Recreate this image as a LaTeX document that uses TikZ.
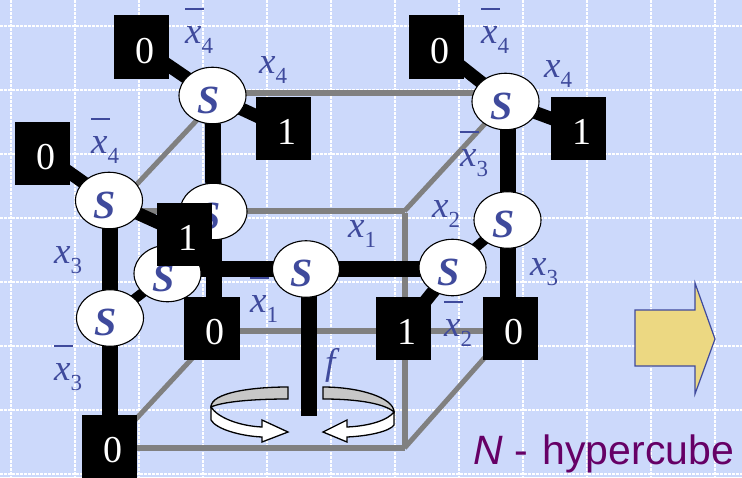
\documentclass[tikz,border=0pt]{standalone}
\usepackage{fontspec}
\setmainfont{Liberation Serif}
\newfontfamily\arialf{Liberation Sans}
\usetikzlibrary{shapes.geometric,backgrounds}
\definecolor{bgblue}{HTML}{CCD9FB}
\definecolor{inkblue}{HTML}{3F4A9C}
\definecolor{cubegray}{HTML}{808080}
\definecolor{arrowyellow}{HTML}{ECD882}
\definecolor{titlepurple}{HTML}{660066}
\newcommand{\xsub}[2]{{\fontsize{37}{37}\selectfont\itshape #1}\raisebox{-10.5pt}{\fontsize{23}{23}\selectfont #2}}
\newcommand{\xbar}[2]{\rlap{\raisebox{33.5pt}{\rule{19pt}{1.2pt}}}\xsub{#1}{#2}}
\tikzset{
  gridline/.style={white,line width=1.1pt,dash pattern=on 3pt off 1pt},
  bitbox/.style={rectangle,fill=black,text=white,minimum width=55.5pt,minimum height=63.5pt,inner sep=0pt,
    font=\fontsize{38}{38}\selectfont,text height=32pt,text depth=0pt,execute at begin node={\kern6pt}},
  switchnode/.style={ellipse,draw=black,line width=1.1pt,fill=white,text=inkblue,minimum width=67pt,minimum height=56.5pt,inner sep=0pt,
    font=\fontsize{40}{40}\selectfont\bfseries\itshape,text height=35pt,text depth=0pt,execute at end node={\kern8pt}},
  varlabel/.style={anchor=base west,inner sep=0pt,text=inkblue},
  cubeedge/.style={cubegray,line width=6pt},
  cubediag/.style={cubegray,line width=5pt},
  wirethick/.style={black,line width=16pt},
  wiremid/.style={black,line width=13pt},
  wirethin/.style={black,line width=10pt},
  turnband/.style={draw=black,line width=1.3pt,line join=miter},
}
\begin{document}
\begin{tikzpicture}[x=1pt,y=-1pt]
\useasboundingbox (0,0) rectangle (742,477);
% coordinates of the cube
\coordinate (cTL) at (212,93);
\coordinate (cTR) at (505,93);
\coordinate (cFL) at (110,211);
\coordinate (cF)  at (404.5,211);
\coordinate (cML) at (212,331);
\coordinate (cMR) at (510,331);
\coordinate (cBL) at (110,448);
\coordinate (cB)  at (404.5,448);
\coordinate (dA)  at (109,214);
\coordinate (dB)  at (212,104);
\coordinate (dC)  at (110,447);
\coordinate (dD)  at (212,337);
\coordinate (stemTop) at (308.5,269);
\coordinate (stemEnd) at (308.5,416);
\coordinate (wireL) at (190,269);
\coordinate (wireR) at (452,269);
% terminal boxes
\node[bitbox] (b1) at (141.5,47) {0};
\node[bitbox] (b2) at (283.5,128.5) {1};
\node[bitbox] (b3) at (42.5,153.5) {0};
\node[bitbox] (b4) at (436.5,47) {0};
\node[bitbox] (b5) at (578.5,128.5) {1};
\node[bitbox] (b7) at (212,328.5) {0};
\node[bitbox] (b8) at (403.5,328.5) {1};
\node[bitbox] (b9) at (510.5,328.5) {0};
\node[bitbox] (b10) at (109.5,446.5) {0};
% switches
\node[switchnode] (s1) at (212.5,95.5) {S};
\node[switchnode] (s2) at (213.5,211.5) {S};
\node[switchnode] (s3) at (109,200.5) {S};
\node[switchnode] (s4) at (167.5,273.5) {S};
\node[switchnode] (s5) at (110,318) {S};
\node[switchnode] (s6) at (306,269) {S};
\node[switchnode] (s7) at (452.5,267.5) {S};
\node[switchnode] (s8) at (505.5,101.5) {S};
\node[switchnode] (s9) at (507.5,220) {S};
\node[bitbox] (b6) at (184.5,234.5) {1};
% grid, cube and wires underneath
\begin{pgfonlayer}{background}
\fill[bgblue] (0,0) rectangle (742,477);
\foreach \gx in {11,75,139,203,267,331,395,459,523,587,651,715}
  \draw[gridline] (\gx,0) -- (\gx,477);
\foreach \gy in {26,90,154,218,282,346,410,474}
  \draw[gridline] (0,\gy) -- (742,\gy);
\draw[cubeedge] (cTL) -- (cTR);
\draw[cubeedge] (cFL) -- (cF);
\draw[cubeedge] (cML) -- (cMR);
\draw[cubeedge] (cBL) -- (cB);
\draw[cubeedge] ([yshift=-2pt]cF) -- ([yshift=2pt]cB);
\draw[cubediag] (dA) -- (dB);
\draw[cubediag] (dC) -- (dD);
\draw[cubediag] (cF) -- (s8.center);
\draw[cubediag] (cB) -- (b9.center);
\draw[wirethick] (s1.center) -- (s2.center);
\draw[wirethick] (s2.center) -- (s2.center |- b7.center);
\draw[wirethick] (s5.center |- s3.center) -- (s5.center);
\draw[wirethick] (s5.center) -- (s5.center |- b10.center);
\draw[wirethick] (s9.center |- s8.center) -- (s9.center);
\draw[wirethick] (s9.center) -- (s9.center |- b9.center);
\draw[wirethick] (wireL) -- (wireR);
\draw[wirethick] (stemTop) -- (stemEnd);
\draw[wiremid] (s1.center) -- (b1.center);
\draw[wiremid] (s1.center) -- (b2.center);
\draw[wiremid] (s3.center) -- (b3.center);
\draw[wiremid] (s3.center) -- (b6.center);
\draw[wiremid] (s8.center) -- (b4.center);
\draw[wiremid] (s8.center) -- (b5.center);
\draw[wirethin] (s4.center) -- (s5.center);
\draw[wirethin] (s7.center) -- (s9.center);
\draw[wiremid] (s7.center) -- (b8.center);
\end{pgfonlayer}
% labels
\node[varlabel] (l1) at (185,43) {\xbar{x}{4}};
\node[varlabel] (l2) at (259,73) {\xsub{x}{4}};
\node[varlabel] (l3) at (91,153) {\xbar{x}{4}};
\node[varlabel] (l4) at (481,43) {\xbar{x}{4}};
\node[varlabel] (l5) at (544,77) {\xsub{x}{4}};
\node[varlabel] (l6) at (460,166) {\xbar{x}{3}};
\node[varlabel] (l7) at (432,217) {\xsub{x}{2}};
\node[varlabel] (l8) at (348,237) {\xsub{x}{1}};
\node[varlabel] (l9) at (54,263) {\xsub{x}{3}};
\node[varlabel] (l10) at (250,312) {\xbar{x}{1}};
\node[varlabel] (l11) at (54,380) {\xbar{x}{3}};
\node[varlabel] (l12) at (530,275) {\xsub{x}{3}};
\node[varlabel] (l13) at (444,336) {\xbar{x}{2}};
\node[varlabel,font=\fontsize{37}{37}\selectfont\itshape] (l14) at (325,374) {f};
% turning arrows
\path[turnband,fill=black!22] (288,387) .. controls (250,387) and (211,393) .. (211,407)
  .. controls (222,402) and (250,399) .. (288,399) -- cycle;
\path[turnband,fill=white] (211,407) -- (211,420) .. controls (216,429) and (240,436) .. (262,437)
  -- (262,442) -- (288,432) -- (262,420) -- (262,427) .. controls (240,426) and (218,418) .. (211,407) -- cycle;
\path[turnband,fill=black!22] (323,387) .. controls (360,387) and (394,398) .. (394,412)
  .. controls (385,404) and (360,399) .. (323,399) -- cycle;
\path[turnband,fill=white] (394,412) -- (394,425) .. controls (390,431) and (370,436) .. (347,437)
  -- (347,442) -- (323,432) -- (347,420) -- (347,427) .. controls (370,426) and (388,420) .. (394,412) -- cycle;
% big arrow
\path[draw=inkblue,line width=1.2pt,fill=arrowyellow] (635,310) -- (695,310) -- (695,283) -- (715,339) -- (695,394) -- (695,366) -- (635,366) -- cycle;
% title
\node[anchor=base west,inner sep=0pt,text=titlepurple,font=\arialf\fontsize{41}{41}\selectfont] (title) at (473,464) {\textit{N}\kern12pt-\kern14pt hypercube};
\end{tikzpicture}
\end{document}
